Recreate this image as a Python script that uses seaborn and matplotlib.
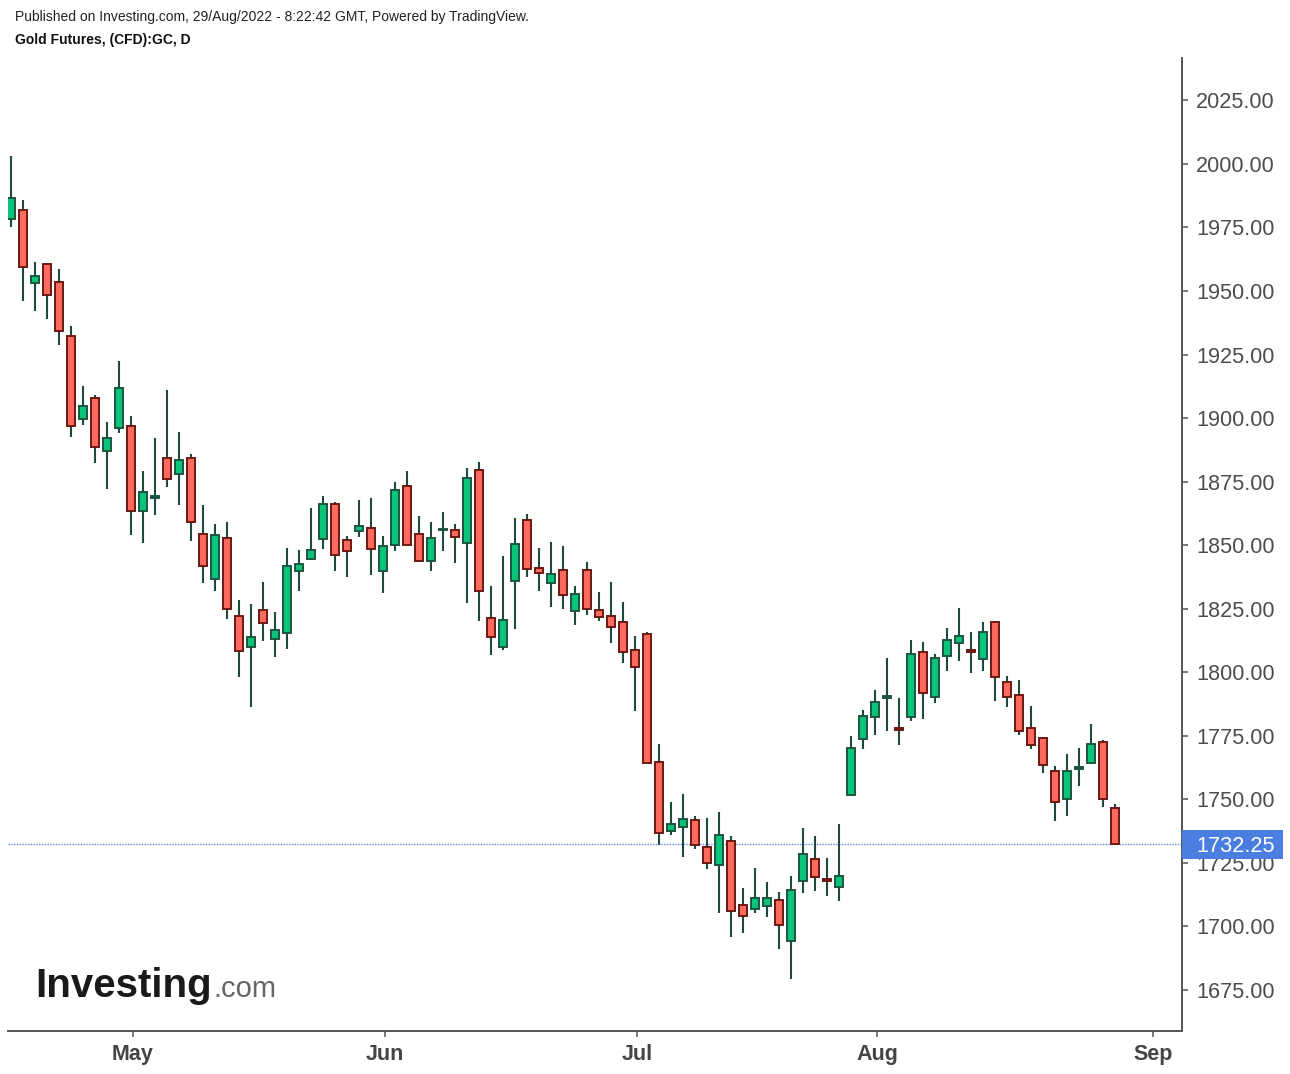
import numpy as np
import pandas as pd
import matplotlib
matplotlib.use("Agg")
import matplotlib.pyplot as plt
import matplotlib.transforms as mtransforms
from matplotlib.patches import Rectangle
import seaborn as sns

# ---------------- data ----------------
opens = [1978.5, 1981.8, 1953.2, 1960.7, 1953.5, 1932.2, 1899.7, 1908.0, 1887.2, 1895.9,
         1896.8, 1863.6, 1868.6, 1884.2, 1877.8, 1884.2, 1854.3, 1836.8, 1852.7, 1822.0,
         1810.0, 1824.3, 1813.2, 1815.6, 1840.0, 1844.7, 1852.4, 1866.2, 1852.0, 1855.7,
         1856.6, 1840.0, 1850.2, 1873.2, 1854.3, 1843.9, 1855.8, 1855.8, 1850.9, 1879.5,
         1821.2, 1810.0, 1836.0, 1859.8, 1841.0, 1835.2, 1840.1, 1824.2, 1840.1, 1824.3,
         1822.0, 1819.6, 1808.6, 1815.0, 1764.5, 1737.6, 1739.0, 1741.8, 1731.4, 1724.2,
         1733.7, 1708.5, 1706.9, 1707.8, 1710.2, 1694.2, 1718.0, 1726.6, 1718.2, 1715.4,
         1751.8, 1773.7, 1782.4, 1789.9, 1777.6, 1782.4, 1807.8, 1790.2, 1806.2, 1811.5,
         1808.4, 1805.3, 1819.8, 1796.0, 1791.1, 1778.0, 1774.0, 1761.3, 1750.2, 1761.8,
         1764.3, 1772.4, 1746.4]
highs = [2003.3, 1986.0, 1961.5, 1961.0, 1958.5, 1936.4, 1912.8, 1908.9, 1898.6, 1922.4,
         1901.0, 1879.0, 1892.2, 1911.2, 1894.6, 1886.0, 1865.6, 1858.5, 1859.3, 1828.5,
         1827.0, 1835.6, 1823.8, 1848.9, 1848.2, 1864.6, 1869.5, 1867.0, 1853.7, 1867.9,
         1868.6, 1853.5, 1874.9, 1879.0, 1861.6, 1859.3, 1863.2, 1858.5, 1880.4, 1882.9,
         1834.1, 1845.9, 1860.7, 1862.4, 1848.9, 1851.3, 1849.7, 1834.1, 1843.4, 1831.7,
         1835.6, 1827.8, 1814.4, 1815.8, 1771.9, 1749.1, 1752.2, 1743.5, 1742.6, 1745.0,
         1735.4, 1715.0, 1722.9, 1717.4, 1713.5, 1719.6, 1738.7, 1735.4, 1726.9, 1740.2,
         1775.0, 1785.2, 1793.1, 1805.6, 1789.8, 1812.8, 1811.9, 1807.2, 1817.4, 1825.3,
         1815.8, 1819.8, 1820.0, 1798.6, 1797.0, 1786.8, 1774.3, 1762.9, 1767.9, 1770.2,
         1779.6, 1773.2, 1748.1]
lows = [1975.0, 1946.0, 1942.0, 1939.0, 1928.7, 1892.4, 1897.2, 1882.4, 1872.1, 1894.2,
        1853.9, 1850.9, 1861.7, 1872.9, 1865.7, 1851.5, 1835.1, 1831.8, 1821.0, 1798.0,
        1786.3, 1812.1, 1806.0, 1809.1, 1831.8, 1844.0, 1848.5, 1839.7, 1837.3, 1853.2,
        1838.1, 1831.2, 1847.6, 1850.0, 1843.5, 1839.7, 1847.6, 1843.0, 1827.2, 1820.0,
        1806.6, 1808.9, 1817.0, 1837.3, 1831.8, 1825.7, 1824.9, 1818.4, 1822.4, 1820.0,
        1811.5, 1803.6, 1784.6, 1764.0, 1731.8, 1735.8, 1727.2, 1730.4, 1722.5, 1705.2,
        1695.6, 1697.3, 1705.2, 1703.6, 1691.0, 1679.2, 1713.1, 1713.7, 1712.1, 1709.8,
        1751.5, 1769.8, 1775.1, 1776.7, 1771.2, 1780.7, 1781.4, 1787.9, 1800.3, 1804.3,
        1799.7, 1800.3, 1788.5, 1786.3, 1775.3, 1769.8, 1760.3, 1741.3, 1743.6, 1755.4,
        1764.0, 1747.0, 1732.25]
closes = [1986.8, 1959.6, 1956.0, 1948.6, 1934.3, 1896.7, 1904.6, 1888.8, 1892.0, 1911.9,
          1863.6, 1871.0, 1869.0, 1876.2, 1883.4, 1859.0, 1841.7, 1854.1, 1825.0, 1808.5,
          1814.0, 1819.5, 1816.5, 1841.7, 1842.4, 1848.0, 1866.2, 1846.3, 1847.8, 1857.4,
          1848.6, 1849.5, 1871.6, 1850.2, 1843.9, 1852.7, 1856.3, 1853.2, 1876.3, 1832.1,
          1813.9, 1820.4, 1850.3, 1840.7, 1839.0, 1838.5, 1830.5, 1830.6, 1824.9, 1821.9,
          1817.9, 1807.8, 1802.0, 1764.4, 1736.7, 1740.2, 1742.4, 1732.1, 1724.9, 1736.0,
          1706.1, 1703.9, 1711.0, 1711.0, 1700.6, 1714.1, 1728.3, 1719.5, 1717.8, 1719.6,
          1770.2, 1782.6, 1788.1, 1790.3, 1777.2, 1807.0, 1791.8, 1805.4, 1812.5, 1814.1,
          1808.0, 1815.7, 1798.1, 1790.4, 1777.0, 1771.5, 1763.6, 1748.8, 1761.3, 1762.2,
          1771.7, 1750.1, 1732.25]

first_day = "2022-04-18"
calendar_end = "2022-09-02"
holidays = ["2022-05-30", "2022-06-20", "2022-07-04"]
month_labels = ["May", "Jun", "Jul", "Aug", "Sep"]
y_ticks = [1675, 1700, 1725, 1750, 1775, 1800, 1825, 1850, 1875, 1900, 1925, 1950, 1975, 2000, 2025]

header = "Published on Investing.com, 29/Aug/2022 - 8:22:42 GMT, Powered by TradingView."
subtitle = "Gold Futures, (CFD):GC, D"

# ---------------- prepare ----------------
days = pd.bdate_range(first_day, calendar_end).drop(pd.to_datetime(holidays))
df = pd.DataFrame({"open": opens, "high": highs, "low": lows, "close": closes})
df["date"] = days[:len(df)]
df["pos"] = np.arange(len(df))
df["up"] = df["close"] >= df["open"]
df["bottom"] = df[["open", "close"]].min(axis=1)
df["height"] = (df["close"] - df["open"]).abs().clip(lower=0.7)

cal = pd.DataFrame({"date": days, "pos": np.arange(len(days))})
cal["mon"] = cal["date"].dt.strftime("%b")
month_pos = [cal.loc[cal["mon"] == m, "pos"].iloc[0] + 0.17 for m in month_labels]

# ---------------- style ----------------
sns.set_style("white")
plt.rcParams["font.family"] = ["Liberation Sans", "DejaVu Sans"]

W, H = 1290, 1074
fig = plt.figure(figsize=(W / 100, H / 100), dpi=100)
ax = fig.add_axes([8 / W, 43 / H, 1174 / W, 973 / H])

WICK = "#1f4a3b"
GREEN, GREEN_EDGE = "#0bc47c", "#1d5540"
RED, RED_EDGE = "#ff6a5f", "#6b1912"

ax.vlines(df["pos"], df["low"], df["high"], color=WICK, lw=1.5, zorder=2)
upd = df[df["up"]]
dnd = df[~df["up"]]
ax.bar(upd["pos"], upd["height"], bottom=upd["bottom"], width=0.7,
       color=GREEN, edgecolor=GREEN_EDGE, linewidth=1.4, zorder=3)
ax.bar(dnd["pos"], dnd["height"], bottom=dnd["bottom"], width=0.7,
       color=RED, edgecolor=RED_EDGE, linewidth=1.4, zorder=3)

last = closes[-1]
ax.axhline(last, color="#5a86ea", ls=(0, (1, 1)), lw=1.0, zorder=1)

ax.set_xlim(-0.25, 97.58)
ax.set_ylim(1658.8, 2041.7)

for s in ["left", "top"]:
    ax.spines[s].set_visible(False)
for s in ["right", "bottom"]:
    ax.spines[s].set_color("#555555")
    ax.spines[s].set_linewidth(1.4)

ax.yaxis.tick_right()
ax.set_yticks(y_ticks)
ax.set_yticklabels([f"{v:.2f}" for v in y_ticks])
ax.tick_params(axis="y", direction="out", length=4.5, width=1.1, color="#555555",
               labelsize=15.6, labelcolor="#4d4d4d", pad=5.5, right=True, left=False)
ax.set_xticks(month_pos)
ax.set_xticklabels(month_labels, fontweight="bold")
ax.tick_params(axis="x", direction="out", length=4.5, width=1.1, color="#555555",
               labelsize=15.5, labelcolor="#444444", pad=5, bottom=True)
ax.grid(False)

# price label box (covers the axis labels beneath, as in the original)
trans = mtransforms.blended_transform_factory(ax.transAxes, ax.transData)
box_h = 29.5 / (973 / (2041.7 - 1658.8))
ax.add_patch(Rectangle((1.0, last - box_h / 2), 101 / 1174, box_h, transform=trans,
                       facecolor="#4a7ee0", edgecolor="none", clip_on=False, zorder=5))
ax.text(1.0 + 14 / 1174, last, f"{last:.2f}", transform=trans, ha="left", va="center_baseline",
        color="white", fontsize=15.6, zorder=6, clip_on=False)

# header
fig.text(15 / W, 1 - 17 / H, header, fontsize=10, color="#222222", va="center", ha="left")
fig.text(15 / W, 1 - 40 / H, subtitle, fontsize=10, color="#111111", va="center", ha="left",
         fontweight="bold")

# logo
fig.text(35 / W, 1 - 997 / H, "Investing", fontsize=29, fontweight="bold", color="#1a1a1a",
         va="baseline", ha="left")
fig.text(213 / W, 1 - 997 / H, ".com", fontsize=21, color="#666666", va="baseline", ha="left")

fig.savefig("out.png", dpi=100, facecolor="white")
